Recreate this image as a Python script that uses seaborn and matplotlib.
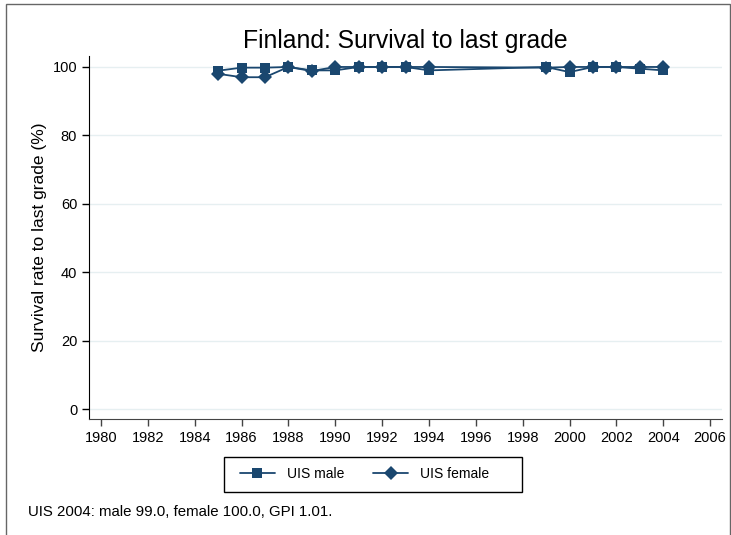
import pandas as pd
import seaborn as sns
import matplotlib
matplotlib.use("Agg")
import matplotlib.pyplot as plt
from matplotlib.patches import Rectangle

years = [1985, 1986, 1987, 1988, 1989, 1990, 1991, 1992, 1993, 1994,
         1999, 2000, 2001, 2002, 2003, 2004]
male = [98.9, 99.8, 99.8, 100.0, 99.0, 99.0, 100.0, 100.0, 100.0, 99.0,
        100.0, 98.5, 100.0, 100.0, 99.5, 99.0]
female = [98.0, 97.0, 97.0, 100.0, 98.8, 100.0, 100.0, 100.0, 100.0, 100.0,
          99.8, 100.0, 100.0, 100.0, 100.0, 100.0]
xticks = list(range(1980, 2007, 2))
yticks = [0, 20, 40, 60, 80, 100]

df = pd.DataFrame({
    "year": years * 2,
    "value": male + female,
    "series": ["UIS male"] * len(years) + ["UIS female"] * len(years),
})

sns.set_style("white")
plt.rcParams["font.family"] = ["Liberation Sans", "DejaVu Sans"]
plt.rcParams["text.color"] = "black"
plt.rcParams["axes.labelcolor"] = "black"
plt.rcParams["xtick.color"] = "black"
plt.rcParams["ytick.color"] = "black"

navy = "#1a476f"
fig = plt.figure(figsize=(7.31, 5.35), dpi=100)
ax = fig.add_axes([0.1218, 0.2168, 0.8659, 0.6785])

sns.lineplot(data=df, x="year", y="value", hue="series", style="series",
             markers={"UIS male": "s", "UIS female": "D"}, dashes=False,
             palette={"UIS male": navy, "UIS female": navy},
             markersize=7, linewidth=1.3, markeredgewidth=0, ax=ax)

ax.set_xlim(1979.49, 2006.51)
ax.set_ylim(-2.92, 103.2)
ax.set_xticks(xticks)
ax.set_yticks(yticks)
ax.tick_params(axis="both", length=5, width=1, colors="black", labelsize=10.5,
               direction="out", bottom=True, left=True)
ax.tick_params(axis="x", color="#444444")
ax.grid(axis="y", color="#e6eff1", linewidth=1)
ax.set_axisbelow(True)
for s in ["top", "right"]:
    ax.spines[s].set_visible(False)
ax.spines["left"].set_color("black")
ax.spines["bottom"].set_color("#444444")
ax.set_xlabel("")
ax.set_ylabel("Survival rate to last grade (%)", fontsize=12.5, labelpad=4)
ax.set_title("Finland: Survival to last grade", fontsize=17.8, pad=6, color="black")

handles, labels = ax.get_legend_handles_labels()
ax.legend_.remove()
fig.legend(handles, labels, loc="center left", bbox_to_anchor=(233 / 731, 0.1145),
           ncol=2, frameon=False, fontsize=10, handlelength=2.5,
           handletextpad=0.86, columnspacing=2.1, borderpad=0)
fig.patches.append(Rectangle((224 / 731, 1 - 492 / 535), 298 / 731, 35 / 535,
                             transform=fig.transFigure, fill=False,
                             edgecolor="black", linewidth=1))

fig.text(0.038, 0.036, "UIS 2004: male 99.0, female 100.0, GPI 1.01.",
         fontsize=10.8)
fig.patches.append(Rectangle((0.008, -0.01), 0.99, 1.003, transform=fig.transFigure,
                             fill=False, edgecolor="#666666", linewidth=1))

fig.savefig("out.png", dpi=100)
